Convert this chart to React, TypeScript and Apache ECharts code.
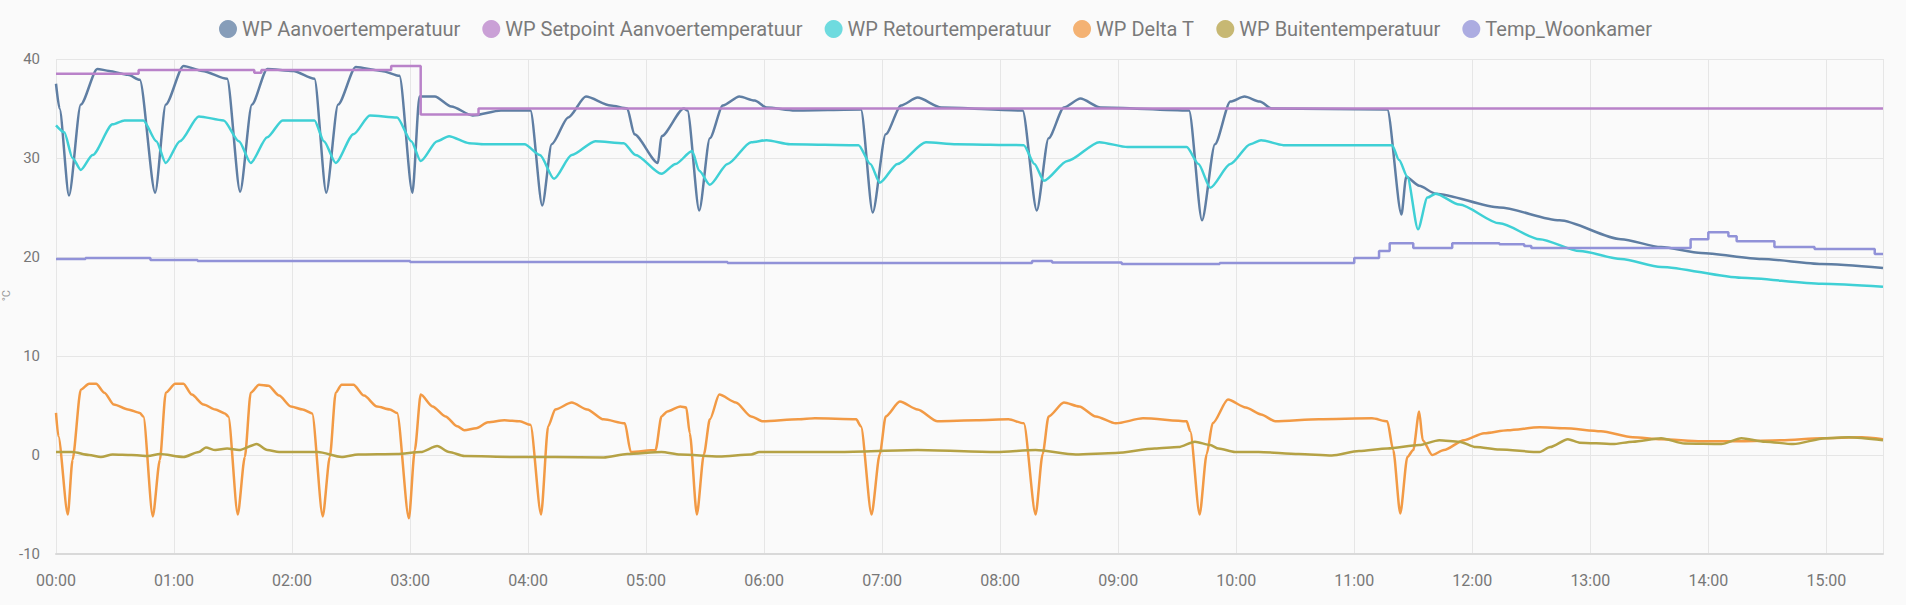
import React, { useEffect, useRef } from "react";
import * as echarts from "echarts";

// [hour of day, °C]
const aanvoer: [number, number][] = [
  [0.0, 37.5], [0.03, 35.0], [0.11, 26.2], [0.21, 35.4], [0.35, 39.0], [0.45, 38.8], [0.61, 38.4], [0.71, 37.9],
  [0.84, 26.5], [0.93, 35.4], [1.08, 39.3], [1.24, 38.8], [1.45, 38.0], [1.56, 26.6], [1.66, 35.4], [1.79, 39.0],
  [2.01, 38.8], [2.19, 38.0], [2.29, 26.5], [2.39, 35.4], [2.54, 39.2], [2.76, 38.8], [2.91, 38.3], [3.02, 26.5],
  [3.08, 36.2], [3.21, 36.2], [3.35, 35.2], [3.53, 34.3], [3.77, 34.8], [4.02, 34.8], [4.12, 25.2], [4.2, 31.4],
  [4.34, 34.1], [4.49, 36.2], [4.7, 35.3], [4.84, 35.0], [4.9, 32.4], [5.1, 29.5], [5.13, 32.2], [5.32, 35.0],
  [5.35, 34.8], [5.45, 24.7], [5.54, 32.0], [5.65, 35.3], [5.79, 36.2], [5.92, 35.8], [6.02, 35.1], [6.26, 34.8],
  [6.82, 34.9], [6.92, 24.5], [7.03, 32.4], [7.16, 35.3], [7.3, 36.1], [7.5, 35.1], [8.19, 34.8], [8.31, 24.7],
  [8.41, 32.0], [8.54, 35.1], [8.68, 36.0], [8.85, 35.1], [9.6, 34.8], [9.71, 23.7], [9.82, 31.4], [9.95, 35.7],
  [10.07, 36.2], [10.2, 35.7], [10.3, 35.0], [11.28, 34.9], [11.4, 24.3], [11.44, 28.1], [11.55, 27.2], [11.69, 26.4],
  [12.23, 25.0], [12.74, 23.7], [13.26, 21.8], [13.6, 21.0], [13.94, 20.4], [14.45, 19.8], [14.96, 19.3], [15.48, 18.9],
];

const setpoint: [number, number][] = [
  [0.0, 38.5], [0.7, 38.9], [1.68, 38.6], [1.74, 38.9], [2.84, 39.3], [3.09, 34.4], [3.58, 35.0], [15.48, 35.0],
];

const retour: [number, number][] = [
  [0.0, 33.3], [0.07, 32.6], [0.14, 30.0], [0.21, 28.8], [0.31, 30.3], [0.48, 33.4], [0.58, 33.8], [0.74, 33.8],
  [0.85, 31.7], [0.93, 29.5], [1.05, 31.7], [1.21, 34.2], [1.42, 33.8], [1.55, 31.7], [1.65, 29.5], [1.79, 32.1],
  [1.92, 33.8], [2.19, 33.8], [2.27, 31.7], [2.37, 29.5], [2.52, 32.4], [2.66, 34.3], [2.89, 34.1], [3.01, 31.7],
  [3.09, 29.7], [3.23, 31.7], [3.33, 32.2], [3.5, 31.5], [3.63, 31.4], [3.97, 31.4], [4.1, 30.3], [4.22, 27.9],
  [4.37, 30.3], [4.57, 31.7], [4.81, 31.5], [4.91, 30.3], [5.13, 28.4], [5.25, 29.4], [5.39, 30.7], [5.45, 28.7],
  [5.54, 27.3], [5.69, 29.4], [5.89, 31.6], [6.02, 31.8], [6.22, 31.4], [6.8, 31.3], [6.9, 29.4], [6.98, 27.5],
  [7.13, 29.4], [7.37, 31.6], [7.63, 31.4], [8.2, 31.3], [8.29, 29.4], [8.37, 27.7], [8.57, 29.7], [8.84, 31.6],
  [9.08, 31.1], [9.58, 31.1], [9.68, 29.4], [9.78, 27.0], [9.95, 29.4], [10.12, 31.4], [10.21, 31.8], [10.4, 31.3],
  [11.32, 31.3], [11.38, 29.8], [11.45, 28.1], [11.54, 22.8], [11.62, 26.0], [11.69, 26.4], [11.89, 25.3], [12.23, 23.4],
  [12.57, 21.8], [12.91, 20.6], [13.26, 19.8], [13.6, 19.0], [14.28, 17.9], [14.96, 17.3], [15.48, 17.0],
];

const deltaT: [number, number][] = [
  [0.0, 4.25], [0.02, 1.9], [0.1, -6.0], [0.14, -0.5], [0.21, 6.6], [0.28, 7.2], [0.34, 7.2], [0.41, 6.3],
  [0.49, 5.1], [0.61, 4.6], [0.71, 4.25], [0.74, 3.9], [0.82, -6.2], [0.88, -0.5], [0.93, 6.3], [1.01, 7.2],
  [1.08, 7.2], [1.15, 6.1], [1.25, 5.1], [1.35, 4.6], [1.43, 4.2], [1.46, 3.9], [1.54, -6.0], [1.6, -0.2],
  [1.65, 6.3], [1.72, 7.1], [1.8, 7.0], [1.89, 6.0], [1.99, 4.9], [2.09, 4.6], [2.17, 4.2], [2.26, -6.2],
  [2.32, -0.2], [2.37, 6.3], [2.42, 7.1], [2.52, 7.1], [2.61, 6.0], [2.72, 4.9], [2.83, 4.6], [2.89, 4.25],
  [2.99, -6.4], [3.04, 0.5], [3.09, 6.1], [3.19, 4.9], [3.3, 3.9], [3.4, 2.9], [3.46, 2.5], [3.56, 2.7],
  [3.66, 3.3], [3.8, 3.5], [3.93, 3.4], [4.02, 3.05], [4.11, -6.0], [4.17, 2.9], [4.23, 4.6], [4.37, 5.3],
  [4.5, 4.6], [4.64, 3.6], [4.82, 3.2], [4.87, 0.3], [5.08, 0.5], [5.13, 3.9], [5.18, 4.4], [5.29, 4.9],
  [5.34, 4.8], [5.37, 2.2], [5.43, -6.0], [5.49, 0.1], [5.54, 3.6], [5.62, 6.1], [5.76, 5.3], [5.89, 3.9],
  [5.99, 3.4], [6.29, 3.6], [6.43, 3.7], [6.78, 3.6], [6.82, 2.9], [6.91, -6.0], [6.98, 0.1], [7.03, 3.9],
  [7.15, 5.4], [7.3, 4.6], [7.47, 3.4], [7.8, 3.5], [8.07, 3.6], [8.2, 3.2], [8.3, -6.0], [8.36, 0.1],
  [8.41, 3.9], [8.54, 5.3], [8.67, 4.9], [8.81, 3.9], [8.98, 3.2], [9.21, 3.7], [9.58, 3.4], [9.61, 2.4],
  [9.69, -6.0], [9.75, 0.1], [9.8, 3.2], [9.93, 5.6], [10.08, 4.8], [10.21, 4.1], [10.33, 3.4], [10.7, 3.6],
  [11.15, 3.7], [11.28, 3.4], [11.33, 0.5], [11.39, -5.9], [11.45, -0.2], [11.5, 0.5], [11.55, 4.4], [11.58, 1.5],
  [11.66, 0.0], [11.76, 0.5], [11.93, 1.5], [12.1, 2.2], [12.3, 2.5], [12.57, 2.8], [12.78, 2.7], [13.09, 2.4],
  [13.36, 1.8], [13.6, 1.6], [13.94, 1.4], [14.28, 1.4], [14.62, 1.5], [14.96, 1.7], [15.3, 1.8], [15.48, 1.6],
];

const buiten: [number, number][] = [
  [0.0, 0.3], [0.14, 0.3], [0.28, 0.0], [0.38, -0.2], [0.48, 0.05], [0.64, 0.0], [0.78, -0.1], [0.88, 0.1],
  [1.08, -0.2], [1.21, 0.3], [1.27, 0.75], [1.35, 0.5], [1.45, 0.65], [1.55, 0.5], [1.7, 1.1], [1.79, 0.5],
  [1.89, 0.3], [2.22, 0.3], [2.42, -0.2], [2.56, 0.05], [2.89, 0.1], [3.09, 0.3], [3.23, 0.9], [3.33, 0.3],
  [3.46, -0.1], [3.9, -0.2], [4.23, -0.2], [4.64, -0.25], [4.84, 0.1], [5.13, 0.3], [5.29, 0.05], [5.62, -0.15],
  [5.89, 0.05], [5.96, 0.3], [6.63, 0.3], [7.3, 0.5], [7.97, 0.3], [8.3, 0.5], [8.64, 0.05], [8.98, 0.2],
  [9.31, 0.65], [9.51, 0.8], [9.65, 1.35], [9.78, 1.0], [9.85, 0.65], [9.99, 0.3], [10.19, 0.3], [10.53, 0.1],
  [10.81, -0.05], [11.04, 0.4], [11.28, 0.65], [11.55, 1.0], [11.72, 1.5], [11.89, 1.35], [12.03, 0.8], [12.23, 0.55],
  [12.57, 0.3], [12.66, 0.8], [12.81, 1.6], [12.91, 1.25], [13.19, 1.1], [13.36, 1.35], [13.6, 1.7], [13.8, 1.15],
  [14.11, 1.1], [14.28, 1.7], [14.48, 1.35], [14.72, 1.1], [14.99, 1.7], [15.19, 1.8], [15.48, 1.5],
];

const woonkamer: [number, number][] = [
  [0.0, 19.8], [0.25, 19.9], [0.8, 19.7], [1.2, 19.6], [3.0, 19.5], [5.69, 19.4], [8.27, 19.6], [8.44, 19.45],
  [9.03, 19.3], [9.86, 19.4], [11.0, 19.9], [11.21, 20.6], [11.3, 21.4], [11.5, 20.9], [11.83, 21.4], [12.23, 21.3],
  [12.44, 21.1], [12.5, 20.9], [13.85, 21.8], [14.0, 22.5], [14.17, 22.1], [14.24, 21.6], [14.56, 21.0], [14.9, 20.8],
  [15.41, 20.3], [15.48, 20.3],
];

const seriesNames = [
  "WP Aanvoertemperatuur",
  "WP Setpoint Aanvoertemperatuur",
  "WP Retourtemperatuur",
  "WP Delta T",
  "WP Buitentemperatuur",
  "Temp_Woonkamer",
];
const seriesColors = ["#5f7ea3", "#b982c9", "#3fd0d5", "#f29a45", "#b5a245", "#9192d8"];
const seriesData = [aanvoer, setpoint, retour, deltaT, buiten, woonkamer];
const seriesStep: (false | "end")[] = [false, "end", false, false, false, "end"];

const yTicks = { min: -10, max: 40, interval: 10 };
const yUnit = "°C";
const xEndHour = 15.48;

const BASE = new Date(2024, 0, 15, 0, 0, 0).getTime();
const toTs = (h: number) => BASE + Math.round(h * 3600000);

export default function App() {
  const ref = useRef<HTMLDivElement>(null);
  useEffect(() => {
    document.body.style.margin = "0";
    if (!ref.current) return;
    const chart = echarts.init(ref.current, undefined, { renderer: "svg" });
    const font = "Roboto";
    chart.setOption({
      animation: false,
      backgroundColor: "#fafafa",
      textStyle: { fontFamily: font },
      graphic: [
        {
          type: "text",
          left: 1,
          top: 290,
          rotation: Math.PI / 2,
          style: { text: yUnit, fill: "#999", font: `11px ${font}` },
        },
      ],
      legend: {
        top: 14,
        left: 214,
        icon: "circle",
        itemWidth: 18,
        itemHeight: 18,
        itemGap: 22,
        textStyle: { color: "#7a7a7a", fontSize: 20, fontFamily: font },
        data: seriesNames.map((n, i) => ({
          name: n,
          itemStyle: { color: seriesColors[i], opacity: 0.75 },
        })),
      },
      grid: { left: 56, right: 23, top: 59, bottom: 51, containLabel: false, outerBoundsMode: "none" },
      xAxis: {
        type: "time",
        min: BASE,
        max: toTs(xEndHour),
        minInterval: 3600000,
        maxInterval: 3600000,
        axisLine: { show: true, onZero: false, lineStyle: { color: "#d9d9d9", width: 2 } },
        axisTick: { show: false },
        splitLine: { show: true, lineStyle: { color: "#e6e6e6", width: 1 } },
        axisLabel: {
          formatter: "{HH}:{mm}",
          color: "#777",
          fontSize: 16,
          margin: 18,
          showMaxLabel: false,
          hideOverlap: false,
          fontFamily: font,
        },
      },
      yAxis: {
        type: "value",
        min: yTicks.min,
        max: yTicks.max,
        interval: yTicks.interval,
        axisLine: { show: false },
        axisTick: { show: false },
        splitLine: { show: true, lineStyle: { color: "#e6e6e6", width: 1 } },
        axisLabel: { color: "#777", fontSize: 15, margin: 16, fontFamily: font },
      },
      series: seriesNames.map((n, i) => ({
        name: n,
        type: "line",
        step: seriesStep[i],
        smooth: seriesStep[i] ? false : 0.25,
        smoothMonotone: "x",
        showSymbol: false,
        symbol: "circle",
        color: seriesColors[i],
        lineStyle: { width: 2.5, color: seriesColors[i] },
        data: seriesData[i].map(([h, v]) => [toTs(h), v]),
      })),
    });
    return () => chart.dispose();
  }, []);
  return <div ref={ref} style={{ width: 1906, height: 605 }} />;
}
